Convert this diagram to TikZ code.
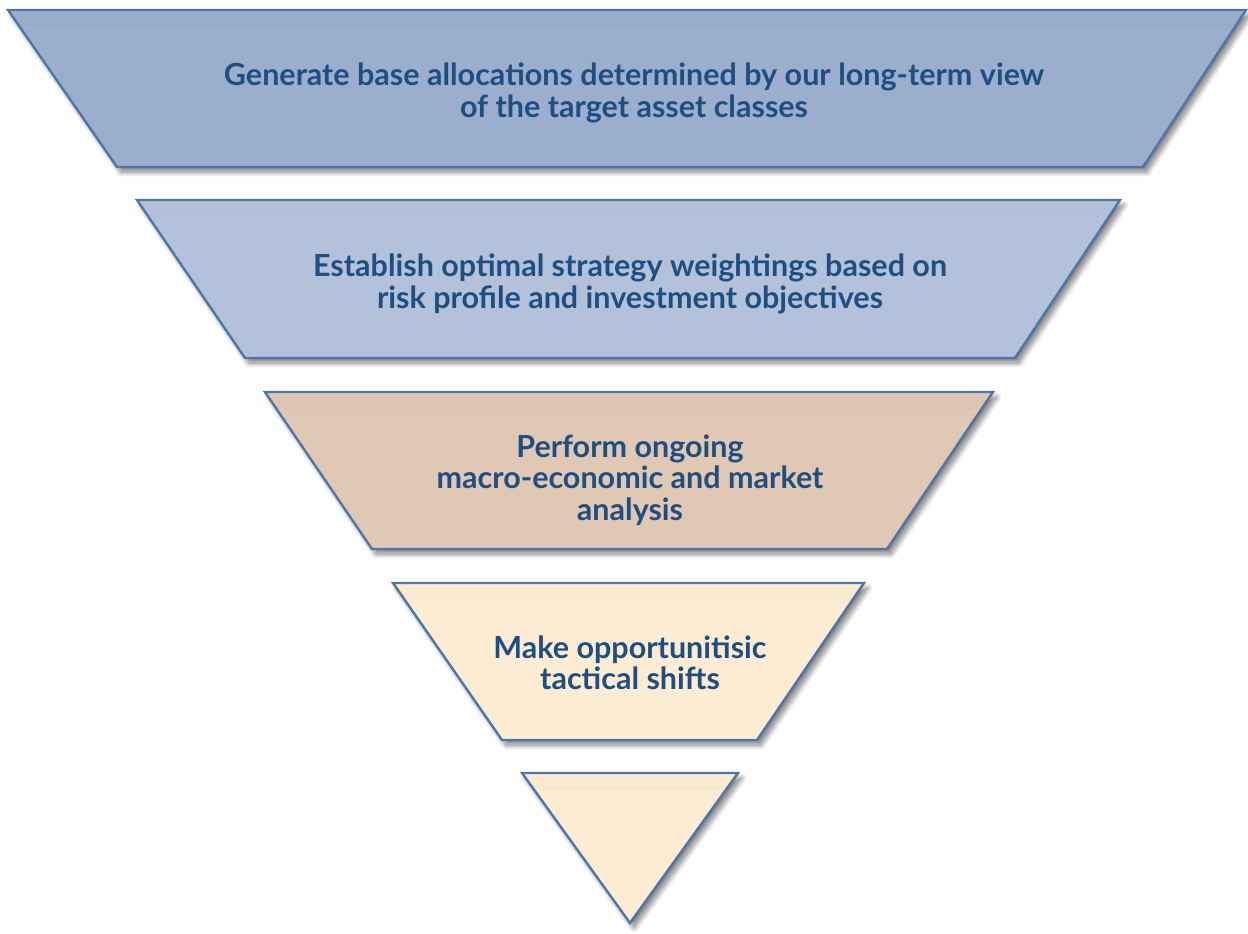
\documentclass[tikz,border=0pt]{standalone}
\usepackage{fontspec}
\setmainfont{Lato}
\usetikzlibrary{shadows.blur}

\definecolor{edgeblue}{RGB}{79,118,168}
\definecolor{textblue}{RGB}{31,78,128}
\definecolor{stageone}{RGB}{155,174,206}
\definecolor{stagetwo}{RGB}{180,193,218}
\definecolor{stagethree}{RGB}{224,200,181}
\definecolor{stagefour}{RGB}{252,236,212}

\tikzset{
  % one slice of the funnel, the argument is its fill colour
  stage/.style={fill=#1, draw=edgeblue, line width=2.4pt, line join=miter,
    blur shadow={shadow xshift=4pt, shadow yshift=-5pt, shadow opacity=50,
      shadow blur steps=10, shadow blur radius=5pt},
    % y runs downwards here, so the shading is flipped
    path picture={\shade[top color=#1, bottom color=#1!82!black]
      (path picture bounding box.north west)
      rectangle ([yshift=-16pt]path picture bounding box.north east);}},
  stagetext/.style={text=textblue, align=center,
    font=\fontsize{30.5}{31.5}\selectfont\bfseries}
}

\begin{document}
\begin{tikzpicture}[x=1pt,y=-1pt]
\useasboundingbox (0,0) rectangle (1248,934);

% the five slices, widest at the top
\draw[stage=stageone] (8,10) -- (1246,10) -- (1143,167) -- (117,167) -- cycle;
\draw[stage=stagetwo] (137,200) -- (1120,200) -- (1015,358) -- (245,358) -- cycle;
\draw[stage=stagethree] (265,392) -- (993,392) -- (887,549) -- (372,549) -- cycle;
\draw[stage=stagefour] (393,583) -- (864,583) -- (757,740) -- (502,740) -- cycle;
% the tip is an empty triangle
\draw[stage=stagefour] (522,773) -- (738,773) -- (630,923) -- cycle;

% text of each slice
\node[stagetext] (alloc) at (634,93)
  {Generate base allocations determined by our long-term view\\of the target asset classes};
\node[stagetext] (weights) at (630,284)
  {Establish optimal strategy weightings based on\\risk profile and investment objectives};
\node[stagetext] (macro) at (630,480)
  {Perform ongoing\\macro-economic and market\\analysis};
\node[stagetext] (tactic) at (630,663)
  {Make opportunitisic\\tactical shifts};
\end{tikzpicture}
\end{document}
